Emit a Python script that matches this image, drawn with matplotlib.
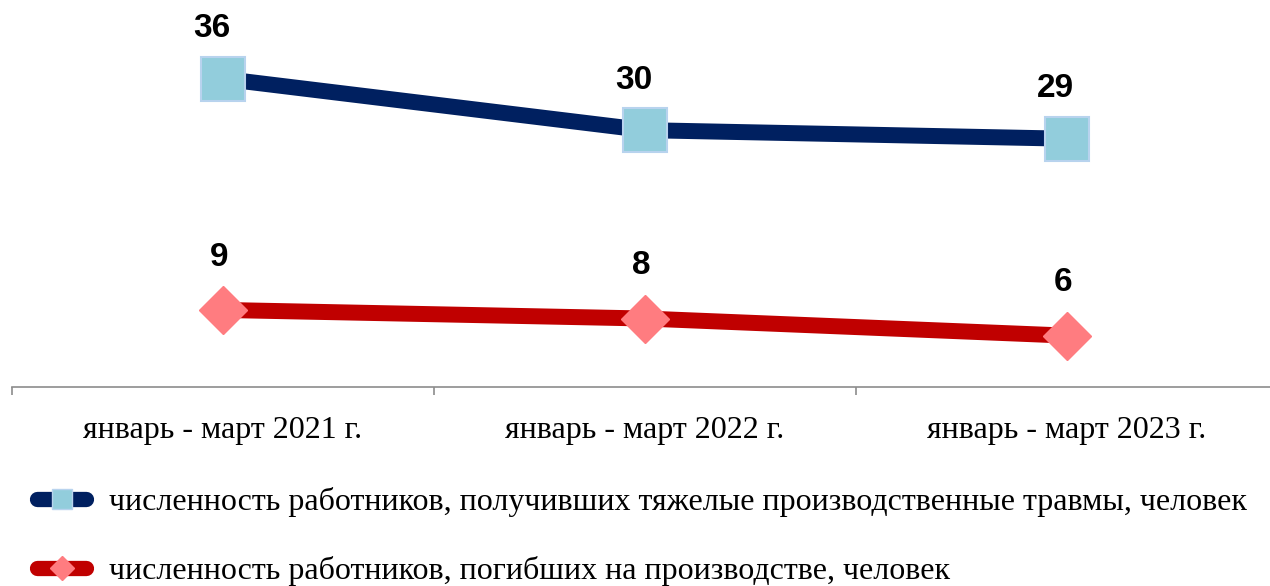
import matplotlib.pyplot as plt
from matplotlib.lines import Line2D

# Данные
periods = ['январь - март 2021 г.', 'январь - март 2022 г.', 'январь - март 2023 г.']
injured = [36, 30, 29]  # тяжелые производственные травмы
killed = [9, 8, 6]  # погибшие на производстве
label_injured = 'численность работников, получивших тяжелые производственные травмы, человек'
label_killed = 'численность работников, погибших на производстве, человек'

blue_line, blue_mark, blue_edge = '#002060', '#92CDDC', '#B8D3EE'
red_line, red_mark = '#C00000', '#FF7C80'

fig = plt.figure(figsize=(12.7, 5.86), dpi=100)
ax = fig.add_axes([12 / 1270, 1 - 387 / 586, 1266 / 1270, 387 / 586])

x = list(range(len(periods)))
ax.plot(x, injured, '-', color=blue_line, lw=11.5, marker='s', ms=31,
        mfc=blue_mark, mec=blue_edge, mew=1.5, zorder=3)
ax.plot(x, killed, '-', color=red_line, lw=11.5, marker='D', ms=24,
        mfc=red_mark, mec=red_mark, zorder=3)

for xi, v in zip(x, injured):
    ax.annotate(str(v), (xi, v), xytext=(-8, 36), textcoords='offset points',
                ha='center', va='center', fontsize=24, fontweight='bold',
                family='Liberation Sans')
for xi, v in zip(x, killed):
    ax.annotate(str(v), (xi, v), xytext=(-3, 38), textcoords='offset points',
                ha='center', va='center', fontsize=24, fontweight='bold',
                family='Liberation Sans')

ax.set_xlim(-0.5, 2.5)
ax.set_ylim(0, 45.2)
ax.set_yticks([])
for s in ['top', 'right', 'left']:
    ax.spines[s].set_visible(False)
ax.spines['bottom'].set_color('#8C8C8C')
ax.spines['bottom'].set_linewidth(1.2)
ax.set_xticks(x)
ax.set_xticklabels(periods, family='Liberation Serif', fontsize=23)
ax.tick_params(axis='x', which='major', length=0, pad=21)
ax.set_xticks([-0.5, 0.5, 1.5, 2.5], minor=True)
ax.tick_params(axis='x', which='minor', length=6, width=1.2, color='#8C8C8C')

h1 = Line2D([], [], color=blue_line, lw=11, solid_capstyle='round', marker='s',
            ms=14, mfc=blue_mark, mec=blue_edge)
h2 = Line2D([], [], color=red_line, lw=11, solid_capstyle='round', marker='D',
            ms=12, mfc=red_mark, mec=red_mark)
fig.legend([h1, h2], [label_injured, label_killed], loc='upper left',
           bbox_to_anchor=(8 / 1270, 1 - 458 / 586), frameon=False,
           prop={'family': 'Liberation Serif', 'size': 23},
           handlelength=1.55, handletextpad=0.72, labelspacing=1.24,
           borderpad=0.4)

fig.savefig('out.png', dpi=100)
